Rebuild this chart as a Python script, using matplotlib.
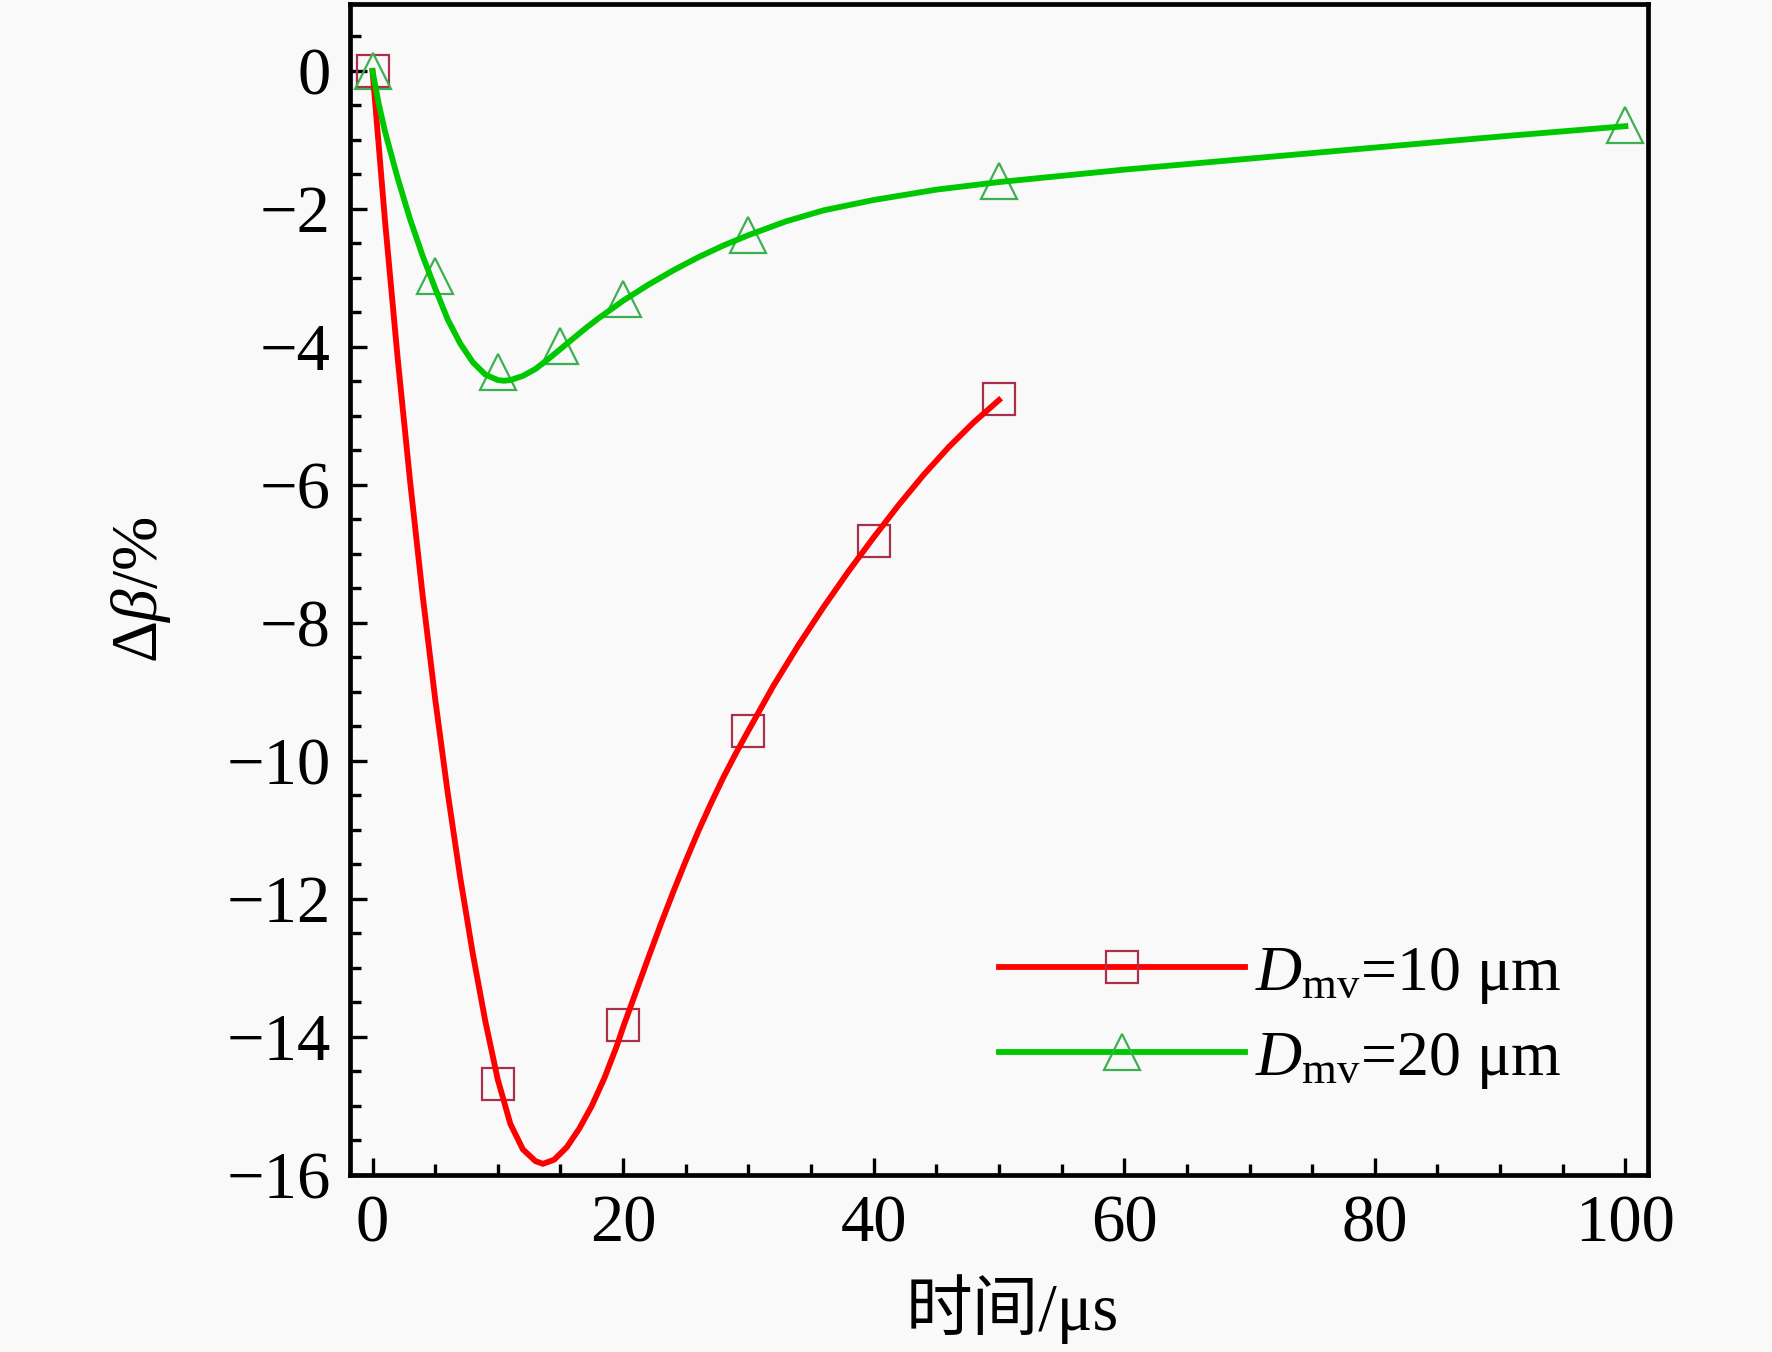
import matplotlib
matplotlib.use("Agg")
import matplotlib.pyplot as plt
from matplotlib.lines import Line2D
from matplotlib.ticker import MultipleLocator

plt.rcParams['font.family'] = ['Liberation Serif', 'Noto Sans CJK SC']
plt.rcParams['mathtext.fontset'] = 'custom'
plt.rcParams['mathtext.rm'] = 'Liberation Serif'
plt.rcParams['mathtext.it'] = 'Liberation Serif:italic'

# measured points
t_10 = [0, 10, 20, 30, 40, 50]
db_10 = [0, -14.68, -13.83, -9.57, -6.81, -4.76]
t_20 = [0, 5, 10, 15, 20, 30, 50, 100]
db_20 = [0, -2.97, -4.36, -3.98, -3.30, -2.38, -1.60, -0.79]

# fitted curves
fit_t_10 = [0, 1, 2, 3, 4, 5, 6, 7, 8, 9, 10, 11, 12, 13, 13.6,
            14.5, 15.5, 16.5, 17.5, 18.5, 19.5, 20, 21, 22, 23, 24, 25, 26,
            27, 28, 29, 30, 32, 34, 36, 38, 40, 42, 44, 46, 48, 50]
fit_db_10 = [0, -2.18, -4.15, -5.95, -7.60, -9.10, -10.46, -11.69, -12.79,
             -13.77, -14.62, -15.26, -15.63, -15.80, -15.84,
             -15.78, -15.60, -15.33, -15.00, -14.60, -14.13, -13.86, -13.36,
             -12.86, -12.37, -11.90, -11.45, -11.02, -10.62, -10.24, -9.89,
             -9.56, -8.91, -8.32, -7.77, -7.25, -6.76, -6.29, -5.85, -5.45,
             -5.09, -4.77]
fit_t_20 = [0, 0.5, 1, 2, 3, 4, 5, 6, 7, 8, 9, 10, 10.5, 11, 12, 13, 14, 15,
            16, 17, 18, 19, 20, 22, 24, 26, 28, 30, 33, 36, 40, 45, 50, 55,
            60, 70, 80, 90, 100]
fit_db_20 = [0, -0.48, -0.88, -1.55, -2.15, -2.68, -3.15, -3.60, -3.95, -4.22,
             -4.40, -4.48, -4.49, -4.48, -4.42, -4.32, -4.18, -4.03, -3.88,
             -3.73, -3.59, -3.46, -3.33, -3.10, -2.89, -2.70, -2.53, -2.38,
             -2.18, -2.02, -1.87, -1.72, -1.61, -1.52, -1.43, -1.27, -1.11,
             -0.95, -0.80]

labels = [r'$D_{\mathrm{mv}}$=10 μm', r'$D_{\mathrm{mv}}$=20 μm']
red, green = '#ff0000', '#00c800'
red_edge, green_edge = '#a8304a', '#3cb050'

fig = plt.figure(figsize=(17.72, 13.52), dpi=100, facecolor='#f9f9f9')
ax = fig.add_axes([0.1975, 0.131, 0.7325, 0.866])
ax.set_facecolor('#f9f9f9')

ax.plot(t_10, db_10, ls='none', marker='s', ms=23, mfc='none', mec=red_edge, mew=1.6)
ax.plot(t_20, db_20, ls='none', marker='^', ms=26, mfc='none', mec=green_edge, mew=1.6)
ax.plot(fit_t_10, fit_db_10, color=red, lw=4.2)
ax.plot(fit_t_20, fit_db_20, color=green, lw=4.2)

ax.set_xlim(-1.8, 101.8)
ax.set_ylim(-16, 0.97)
ax.xaxis.set_major_locator(MultipleLocator(20))
ax.xaxis.set_minor_locator(MultipleLocator(5))
ax.yaxis.set_major_locator(MultipleLocator(2))
ax.yaxis.set_minor_locator(MultipleLocator(0.5))
ax.tick_params(which='both', direction='in', width=2.4, labelsize=48, pad=14,
               top=False, right=False)
ax.tick_params(which='major', length=12)
ax.tick_params(which='minor', length=8)
for s in ax.spines.values():
    s.set_linewidth(3.4)

ax.set_xlabel('时间/μs', fontsize=48, labelpad=14)
ax.xaxis.set_label_coords(0.51, -0.085)
ax.set_ylabel(r'$\Delta\beta$/%', fontsize=47, labelpad=38)

handles = [
    Line2D([], [], color=red, lw=4.2, marker='s', ms=23, mfc='none', mec=red_edge, mew=1.6),
    Line2D([], [], color=green, lw=4.2, marker='^', ms=26, mfc='none', mec=green_edge, mew=1.6),
]
ax.legend(handles, labels, loc='center left', bbox_to_anchor=(0.5, 0.134),
          frameon=False, fontsize=46, handlelength=3.85, handletextpad=0.15,
          labelspacing=0.38, numpoints=1, borderpad=0, borderaxespad=0)

fig.savefig('out.png', dpi=100, facecolor=fig.get_facecolor())
